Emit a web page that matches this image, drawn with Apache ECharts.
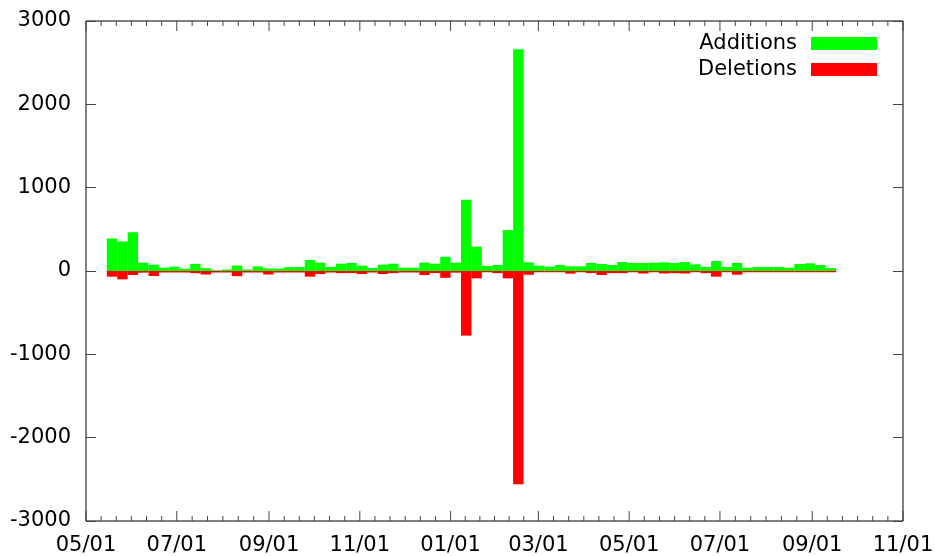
<!DOCTYPE html>
<html>
<head>
<meta charset="utf-8">
<script src="https://cdn.jsdelivr.net/npm/echarts@6/dist/echarts.min.js"></script>
<style>
  html, body { margin: 0; padding: 0; background: #fff; }
  #chart { width: 935px; height: 556px; }
</style>
</head>
<body>
<div id="chart"></div>
<script>
// week start dates (one bar per week)
const weekStarts = [
  '2010-05-15', '2010-05-22', '2010-05-29', '2010-06-05', '2010-06-12', '2010-06-19', '2010-06-26',
  '2010-07-03', '2010-07-10', '2010-07-17', '2010-07-24', '2010-07-31', '2010-08-07', '2010-08-14',
  '2010-08-21', '2010-08-28', '2010-09-04', '2010-09-11', '2010-09-18', '2010-09-25', '2010-10-02',
  '2010-10-09', '2010-10-16', '2010-10-23', '2010-10-30', '2010-11-06', '2010-11-13', '2010-11-20',
  '2010-11-27', '2010-12-04', '2010-12-11', '2010-12-18', '2010-12-25', '2011-01-01', '2011-01-08',
  '2011-01-15', '2011-01-22', '2011-01-29', '2011-02-05', '2011-02-12', '2011-02-19', '2011-02-26',
  '2011-03-05', '2011-03-12', '2011-03-19', '2011-03-26', '2011-04-02', '2011-04-09', '2011-04-16',
  '2011-04-23', '2011-04-30', '2011-05-07', '2011-05-14', '2011-05-21', '2011-05-28', '2011-06-04',
  '2011-06-11', '2011-06-18', '2011-06-25', '2011-07-02', '2011-07-09', '2011-07-16', '2011-07-23',
  '2011-07-30', '2011-08-06', '2011-08-13', '2011-08-20', '2011-08-27', '2011-09-03', '2011-09-10'
];

const additions = [
  390, 355, 465, 100, 76, 40, 52, 28, 86, 34,
  10, 18, 66, 18, 54, 30, 30, 46, 48, 132,
  100, 48, 88, 96, 64, 36, 76, 88, 40, 40,
  100, 88, 170, 100, 855, 292, 60, 72, 492, 2660,
  104, 64, 52, 72, 56, 56, 96, 84, 72, 108,
  96, 96, 100, 104, 96, 108, 80, 48, 120, 48,
  96, 40, 48, 48, 48, 40, 84, 92, 72, 36
];

const deletions = [
  -68, -100, -48, -20, -60, -18, -18, -18, -26, -42,
  -18, -18, -62, -18, -18, -42, -18, -18, -18, -68,
  -36, -18, -25, -25, -36, -18, -36, -25, -18, -18,
  -48, -25, -82, -20, -775, -88, -15, -25, -88, -2560,
  -45, -15, -15, -15, -32, -15, -25, -48, -25, -25,
  -15, -30, -15, -30, -25, -30, -15, -25, -68, -15,
  -44, -15, -15, -15, -15, -15, -15, -15, -15, -15
];

const tickDates = [
  '2010-05-01', '2010-07-01', '2010-09-01', '2010-11-01', '2011-01-01',
  '2011-03-01', '2011-05-01', '2011-07-01', '2011-09-01', '2011-11-01'
];
const tickLabels = ['05/01', '07/01', '09/01', '11/01', '01/01', '03/01', '05/01', '07/01', '09/01', '11/01'];

const WEEK = 7 * 24 * 3600 * 1000;
const FONT = 'DejaVu Sans';
const FONT_SIZE = 21;

function toTime(s) {
    return new Date(s + 'T00:00:00').getTime();
}

const tickTimes = tickDates.map(toTime);

function barItem(color) {
    return function (params, api) {
        const t = api.value(0);
        const v = api.value(1);
        const p0 = api.coord([t, 0]);
        const p1 = api.coord([t + WEEK, v]);
        return {
            type: 'rect',
            shape: {
                x: p0[0],
                y: Math.min(p0[1], p1[1]),
                width: p1[0] - p0[0],
                height: Math.abs(p1[1] - p0[1])
            },
            style: { fill: color }
        };
    };
}

// x ticks (major + 5 minor in between), mirrored on the top border, plus labels
function tickItem(params, api) {
    const i = params.dataIndex;
    const t = api.value(0);
    const b = api.coord([t, -3000]);
    const top = api.coord([t, 3000]);
    const children = [
        { type: 'line', shape: { x1: b[0], y1: b[1], x2: b[0], y2: b[1] - 10 }, style: { stroke: '#444', lineWidth: 1 } },
        { type: 'line', shape: { x1: top[0], y1: top[1], x2: top[0], y2: top[1] + 10 }, style: { stroke: '#444', lineWidth: 1 } },
        {
            type: 'text',
            style: {
                text: tickLabels[i], x: b[0], y: b[1] + 25,
                fill: '#000', font: FONT_SIZE + 'px "' + FONT + '"',
                textAlign: 'center', textVerticalAlign: 'middle'
            }
        }
    ];
    if (i < tickTimes.length - 1) {
        const next = api.coord([tickTimes[i + 1], -3000]);
        for (let j = 1; j < 6; j++) {
            const x = b[0] + (next[0] - b[0]) * j / 6;
            children.push({ type: 'line', shape: { x1: x, y1: b[1], x2: x, y2: b[1] - 5 }, style: { stroke: '#444', lineWidth: 1 } });
            children.push({ type: 'line', shape: { x1: x, y1: top[1], x2: x, y2: top[1] + 5 }, style: { stroke: '#444', lineWidth: 1 } });
        }
    }
    return { type: 'group', children: children };
}

const chart = echarts.init(document.getElementById('chart'));

const yCommon = {
    type: 'value',
    min: -3000,
    max: 3000,
    interval: 1000,
    axisLine: { show: false },
    splitLine: { show: false },
    axisTick: { show: true, inside: true, length: 10, lineStyle: { color: '#444', width: 1 } }
};

option = {
    backgroundColor: '#fff',
    animation: false,
    grid: {
        left: 86, right: 32, top: 21, bottom: 35,
        show: true, borderColor: '#000', borderWidth: 1, backgroundColor: 'transparent'
    },
    legend: {
        orient: 'vertical',
        right: 58,
        top: 33,
        padding: 0,
        itemGap: 5,
        itemWidth: 66,
        itemHeight: 13,
        align: 'right',
        icon: 'rect',
        data: ['Additions', 'Deletions'],
        textStyle: { fontFamily: FONT, fontSize: FONT_SIZE, color: '#000', lineHeight: 20, padding: [0, 9, 0, 0] }
    },
    xAxis: {
        type: 'time',
        min: tickTimes[0],
        max: tickTimes[tickTimes.length - 1],
        axisLine: { show: false },
        axisTick: { show: false },
        axisLabel: { show: false },
        splitLine: { show: false }
    },
    yAxis: [
        Object.assign({}, yCommon, {
            position: 'left',
            axisLabel: { fontFamily: FONT, fontSize: FONT_SIZE, color: '#000', margin: 15, formatter: v => String(v) }
        }),
        Object.assign({}, yCommon, { position: 'right', axisLabel: { show: false } })
    ],
    series: [
        {
            name: 'Additions',
            type: 'custom',
            itemStyle: { color: '#00ff00' },
            renderItem: barItem('#00ff00'),
            encode: { x: 0, y: 1 },
            data: weekStarts.map((d, i) => [toTime(d), additions[i]])
        },
        {
            name: 'Deletions',
            type: 'custom',
            itemStyle: { color: '#ff0000' },
            renderItem: barItem('#ff0000'),
            encode: { x: 0, y: 1 },
            data: weekStarts.map((d, i) => [toTime(d), deletions[i]])
        },
        {
            name: 'ticks',
            type: 'custom',
            silent: true,
            renderItem: tickItem,
            encode: { x: 0, y: 1 },
            data: tickTimes.map(t => [t, 0])
        }
    ]
};

chart.setOption(option);
</script>
</body>
</html>
